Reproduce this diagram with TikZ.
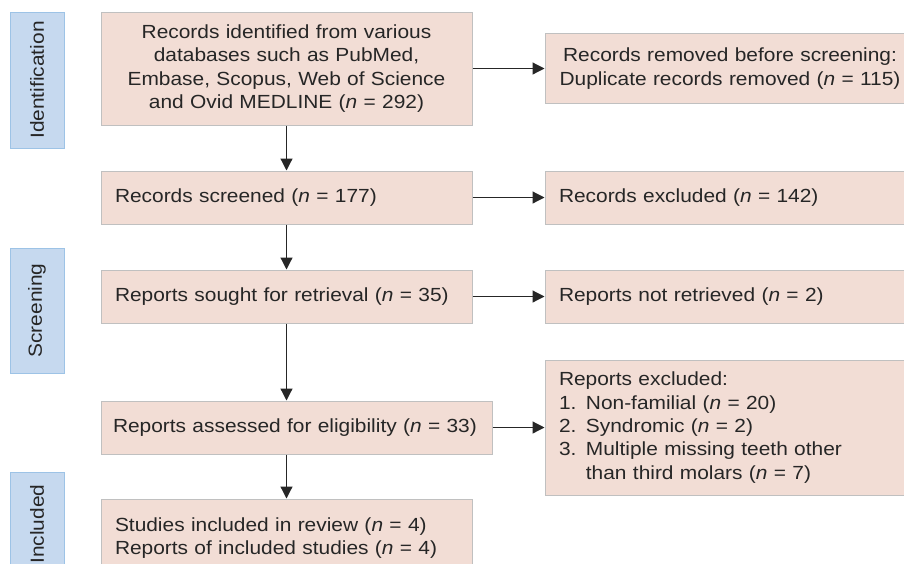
\documentclass[tikz,border=0pt]{standalone}
\usepackage{fontspec}
\setmainfont{Liberation Sans}[FakeStretch=1.1]
\usetikzlibrary{arrows.meta,positioning}
\definecolor{boxfill}{RGB}{242,221,213}
\definecolor{boxline}{RGB}{192,192,192}
\definecolor{phasefill}{RGB}{198,217,239}
\definecolor{phaseline}{RGB}{157,195,230}
\definecolor{ink}{RGB}{38,38,38}

\begin{document}
\begin{tikzpicture}[x=0.5pt, y=-0.5pt, >={Triangle[length=6pt,width=6pt]}, on grid,
  box/.style={draw=boxline, fill=boxfill, line width=0.5pt, text=ink, align=left,
    inner xsep=7pt, font=\fontsize{9.5}{11.7}\selectfont},
  phase/.style={draw=phaseline, fill=phasefill, line width=0.5pt, text=ink, rotate=90,
    minimum height=27pt, font=\fontsize{9.5}{11.7}\selectfont},
  link/.style={->, color=ink, line width=0.6pt}]
\useasboundingbox (0,0) rectangle (904,563);
% Phase labels
\node [phase, minimum width=68pt] (idphase) at (37,80) {Identification};
\node [phase, minimum width=62.5pt] (scphase) at (37,310.5) {Screening};
\node [phase, minimum width=52pt] (inphase) at (37,524) {Included};
% Main column
\node [box, align=center, text width=171.5pt, minimum height=56.5pt] (ident) at (286.5,68.5)
  {Records identified from various\\databases such as PubMed,\\Embase, Scopus, Web of Science\\and Ovid MEDLINE (\textit{n} = 292)};
\node [box, text width=171.5pt, minimum height=26.5pt] (screened) [below=64.5pt of ident]
  {Records screened (\textit{n} = 177)};
\node [box, text width=171.5pt, minimum height=26.5pt] (sought) [below=49.5pt of screened]
  {Reports sought for retrieval (\textit{n} = 35)};
\node [box, inner xsep=6pt, text width=183.5pt, minimum height=26.5pt] (assessed) [below=65.5pt of sought, xshift=5pt]
  {Reports assessed for eligibility (\textit{n} = 33)};
\node [box, text width=171.5pt, minimum height=39pt] (included) [below=55.25pt of assessed, xshift=-5pt]
  {Studies included in review (\textit{n} = 4)\\Reports of included studies (\textit{n} = 4)};
% Side column
\node [box, align=center, inner xsep=6pt, text width=173pt, minimum height=35pt] (removed) [right=221.75pt of ident]
  {Records removed before screening:\\Duplicate records removed (\textit{n} = 115)};
\node [box, text width=171pt, minimum height=26.5pt] (excluded) [right=221.75pt of screened]
  {Records excluded (\textit{n} = 142)};
\node [box, text width=171pt, minimum height=26.5pt] (notret) [right=221.75pt of sought]
  {Reports not retrieved (\textit{n} = 2)};
\node [box, text width=171pt, minimum height=67.5pt] (repexcl) [right=216.75pt of assessed]
  {Reports excluded:\\1. Non-familial (\textit{n} = 20)\\2. Syndromic (\textit{n} = 2)\\3. Multiple missing teeth other\\\hphantom{3. }than third molars (\textit{n} = 7)};
% Arrows
\path[link]
(ident) edge (screened)
(screened) edge (sought)
(sought) edge (assessed.north -| sought)
(assessed.south -| included) edge (included)
(ident.east) edge (removed.west |- ident.east)
(screened) edge (excluded)
(sought) edge (notret)
(assessed) edge (repexcl.west |- assessed)
;
\end{tikzpicture}
\end{document}
